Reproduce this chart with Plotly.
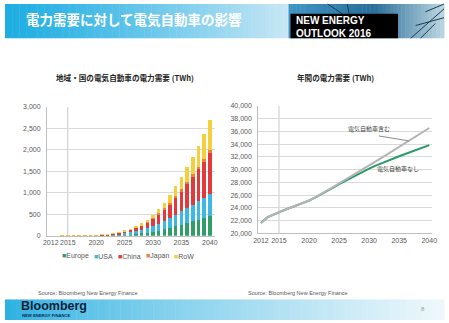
import plotly.graph_objects as go

W, H = 449, 323

# ---- data -------------------------------------------------------------
years = list(range(2012, 2041))

europe = [0.5, 1, 1.5, 2, 3, 4, 5, 6, 7, 9, 12, 16, 21, 28, 38, 50, 63, 78, 98,
          120, 148, 180, 220, 262, 300, 340, 380, 420, 460]
usa = [0.5, 1, 1.2, 1.6, 2.2, 3, 4, 5, 6.5, 8, 11, 15, 21, 30, 42, 57, 76, 98, 132,
       165, 200, 235, 270, 305, 345, 385, 425, 470, 515]
china = [0.2, 0.5, 0.8, 1.5, 2.5, 3.5, 5, 7, 9, 12, 17, 24, 33, 47, 63, 82, 106, 133, 175,
         220, 270, 330, 410, 480, 560, 650, 740, 830, 950]
japan = [0.1, 0.2, 0.3, 0.4, 0.5, 0.6, 0.8, 1, 1.2, 1.5, 2, 2.5, 3, 4, 5, 6, 8, 10, 14,
         18, 23, 29, 36, 43, 50, 56, 62, 68, 75]
row = [0.1, 0.2, 0.3, 0.4, 0.6, 0.8, 1, 1.5, 2, 3, 4, 5, 7, 11, 17, 25, 37, 51, 71,
       97, 129, 166, 214, 280, 335, 399, 483, 572, 700]

demand_with_ev = [21600, 22450, 22900, 23350, 23700, 24050, 24400, 24750, 25150, 25650,
                  26150, 26700, 27250, 27850, 28400, 28950, 29500, 30070, 30650,
                  31230, 31810, 32400, 33000, 33600, 34170, 34750, 35330, 35930, 36550]
demand_without_ev = [21600, 22450, 22895, 23345, 23690, 24040, 24385, 24730, 25125, 25615,
                     26105, 26640, 27165, 27730, 28235, 28730, 29210, 29700, 30160,
                     30580, 30990, 31380, 31750, 32100, 32450, 32800, 33150, 33500, 33850]

regions = ["Europe", "USA", "China", "Japan", "RoW"]
region_values = [europe, usa, china, japan, row]
region_colors = ["#2f9e68", "#3db8e2", "#e03a3c", "#f0803c", "#f4d03f"]

year_ticks = [2012, 2015, 2020, 2025, 2030, 2035, 2040]

slide_title = "電力需要に対して電気自動車の影響"
left_title = "地域・国の電気自動車の電力需要 (TWh)"
right_title = "年間の電力需要 (TWh)"
label_with = "電気自動車含む"
label_without = "電気自動車なし"
source_text = "Source: Bloomberg New Energy Finance"

# ---- helpers ----------------------------------------------------------
JP = "Noto Sans CJK JP"
LAT = "Liberation Sans, Arial"
TICK_COL = "#595959"
GRID_COL = "#d9d9d9"


def px_x(x):
    return x / W


def px_y(y):
    return 1 - y / H


def lerp(c1, c2, t):
    a = [int(c1[i:i + 2], 16) for i in (1, 3, 5)]
    b = [int(c2[i:i + 2], 16) for i in (1, 3, 5)]
    return "#" + "".join(f"{round(a[k] + (b[k] - a[k]) * t):02x}" for k in range(3))


fig = go.Figure()

# stacked bars: EV electricity demand by region
for name, vals, col in zip(regions, region_values, region_colors):
    fig.add_trace(go.Bar(x=years, y=vals, name=name, marker_color=col,
                         marker_line_width=0, width=0.62,
                         xaxis="x", yaxis="y", showlegend=False))

# annual power demand lines
fig.add_trace(go.Scatter(x=years, y=demand_without_ev, mode="lines",
                         line=dict(color="#2a9a6c", width=2),
                         xaxis="x2", yaxis="y2", showlegend=False))
fig.add_trace(go.Scatter(x=years, y=demand_with_ev, mode="lines",
                         line=dict(color="#b4b4b4", width=2),
                         xaxis="x2", yaxis="y2", showlegend=False))

shapes = []
annotations = []

# header banner gradient
n = 80
x_end = 292
for i in range(n):
    x0 = x_end * i / n
    x1 = x_end * (i + 1) / n + 0.5
    t = i / (n - 1)
    col = lerp("#1faee2", "#c9e7f5", t ** 1.2)
    shapes.append(dict(type="rect", xref="paper", yref="paper",
                       x0=px_x(x0), x1=px_x(x1), y0=px_y(35), y1=1,
                       fillcolor=col, line_width=0, layer="below"))
# pylon photo area
m = 40
for i in range(m):
    x0 = 290 + (W - 290) * i / m
    x1 = 290 + (W - 290) * (i + 1) / m + 0.5
    t = i / (m - 1)
    if t < 0.55:
        col = lerp("#3f94c4", "#2a6f9a", t / 0.55)
    else:
        col = lerp("#2a6f9a", "#b9d3df", (t - 0.55) / 0.45)
    shapes.append(dict(type="rect", xref="paper", yref="paper",
                       x0=px_x(x0), x1=px_x(x1), y0=px_y(35), y1=1,
                       fillcolor=col, line_width=0, layer="below"))
# pylon struts
for (xa, ya, xb, yb) in [(330, 0, 345, 10), (350, 0, 352, 10), (415, 35, 449, 5),
                         (420, 22, 449, 14), (425, 35, 440, 20), (430, 8, 449, 0)]:
    shapes.append(dict(type="line", xref="paper", yref="paper",
                       x0=px_x(xa), y0=px_y(ya), x1=px_x(xb), y1=px_y(yb),
                       line=dict(color="#1d3c52", width=1), layer="below"))
# black badge
shapes.append(dict(type="rect", xref="paper", yref="paper",
                   x0=px_x(292), x1=px_x(402), y0=px_y(35), y1=px_y(10),
                   fillcolor="#000000", line_width=0, layer="below"))

# footer gradient
for i in range(n):
    x0 = W * i / n
    x1 = W * (i + 1) / n + 0.5
    t = i / (n - 1)
    col = lerp("#2db1e1", "#eef7fb", t ** 0.8)
    shapes.append(dict(type="rect", xref="paper", yref="paper",
                       x0=px_x(x0), x1=px_x(x1), y0=0, y1=px_y(302),
                       fillcolor=col, line_width=0, layer="below"))

# 2015 marker lines
shapes.append(dict(type="line", xref="x", yref="y", x0=2015, x1=2015, y0=0, y1=3000,
                   line=dict(color="#c8c8c8", width=1), layer="below"))
shapes.append(dict(type="line", xref="x2", yref="y2", x0=2015, x1=2015, y0=20000, y1=40000,
                   line=dict(color="#c8c8c8", width=1), layer="below"))
# pointer for the "with EV" label
shapes.append(dict(type="line", xref="x2", yref="y2", x0=2031.6, y0=35300, x1=2036.6, y1=34520,
                   line=dict(color="#8c8c8c", width=1)))

# header texts
annotations.append(dict(text=f"<b>{slide_title}</b>", xref="paper", yref="paper",
                        x=px_x(19), y=px_y(15), xanchor="left", yanchor="middle",
                        showarrow=False, font=dict(family=JP, size=13.5, color="white")))
annotations.append(dict(text="<b>NEW ENERGY<br>OUTLOOK 2016</b>", xref="paper", yref="paper",
                        x=px_x(297), y=px_y(23), xanchor="left", yanchor="middle",
                        showarrow=False, align="left", borderpad=0,
                        font=dict(family=LAT, size=10, color="white")))

# chart titles
annotations.append(dict(text=f"<b>{left_title}</b>", xref="paper", yref="paper",
                        x=px_x(123), y=px_y(75), xanchor="center", yanchor="middle",
                        showarrow=False, font=dict(family=JP, size=7.6, color="#262626")))
annotations.append(dict(text=f"<b>{right_title}</b>", xref="paper", yref="paper",
                        x=px_x(338), y=px_y(75), xanchor="center", yanchor="middle",
                        showarrow=False, font=dict(family=JP, size=7.6, color="#262626")))

# legend built from colored squares
leg_positions = [56, 89, 114, 142, 171]
for name, col, lx in zip(regions, region_colors, leg_positions):
    annotations.append(dict(text=f"<span style='color:{col}'>■</span>{name}",
                            xref="paper", yref="paper", x=px_x(lx), y=px_y(258),
                            xanchor="left", yanchor="middle", showarrow=False,
                            font=dict(family=LAT, size=7, color=TICK_COL)))

# line labels
annotations.append(dict(text=label_with, xref="x2", yref="y2", x=2030, y=36500,
                        xanchor="center", yanchor="middle", showarrow=False,
                        font=dict(family=JP, size=6, color="#404040")))
annotations.append(dict(text=label_without, xref="x2", yref="y2", x=2034.8, y=30150,
                        xanchor="center", yanchor="middle", showarrow=False,
                        font=dict(family=JP, size=6, color="#404040")))

# sources
for sx in (32, 247):
    annotations.append(dict(text=source_text, xref="paper", yref="paper",
                            x=px_x(sx), y=px_y(295), xanchor="left", yanchor="middle",
                            showarrow=False, font=dict(family=LAT, size=5.5, color="#595959")))

# footer brand
annotations.append(dict(text="<b>Bloomberg</b>", xref="paper", yref="paper",
                        x=px_x(14), y=px_y(309), xanchor="left", yanchor="middle",
                        showarrow=False, font=dict(family=LAT, size=12.5, color="#0b1f3a")))
annotations.append(dict(text="<b>NEW ENERGY FINANCE</b>", xref="paper", yref="paper",
                        x=px_x(15), y=px_y(318.5), xanchor="left", yanchor="middle",
                        showarrow=False, font=dict(family=LAT, size=4.2, color="#0b2a5a")))
annotations.append(dict(text="8", xref="paper", yref="paper",
                        x=px_x(428), y=px_y(312), xanchor="center", yanchor="middle",
                        showarrow=False, font=dict(family=LAT, size=6, color="#9a9a9a")))

axis_common = dict(tickfont=dict(family=LAT, size=7, color=TICK_COL),
                   showline=True, linecolor="#bfbfbf", linewidth=1, zeroline=False,
                   ticks="")

fig.update_layout(
    width=W, height=H, margin=dict(l=0, r=0, t=0, b=0),
    paper_bgcolor="white", plot_bgcolor="white",
    barmode="stack", bargap=0.3, showlegend=False,
    xaxis=dict(domain=[px_x(43), px_x(215)], range=[2011.35, 2040.95],
               tickvals=year_ticks, tickangle=0, showgrid=False, anchor="y",
               **axis_common),
    yaxis=dict(domain=[px_y(237), px_y(105)], range=[0, 3000], dtick=500,
               tickformat=",", showgrid=True, gridcolor=GRID_COL, gridwidth=1,
               anchor="x", ticklabelstandoff=4, **axis_common),
    xaxis2=dict(domain=[px_x(259), px_x(437)], range=[2011.55, 2040.5],
                tickvals=year_ticks, tickangle=0, showgrid=False, anchor="y2",
                **axis_common),
    yaxis2=dict(domain=[px_y(234.3), px_y(104.3)], range=[20000, 40000], dtick=2000,
                tickformat=",", showgrid=True, gridcolor=GRID_COL, gridwidth=1,
                anchor="x2", ticklabelstandoff=4, **axis_common),
    shapes=shapes, annotations=annotations,
)

fig.write_html("out.html")
